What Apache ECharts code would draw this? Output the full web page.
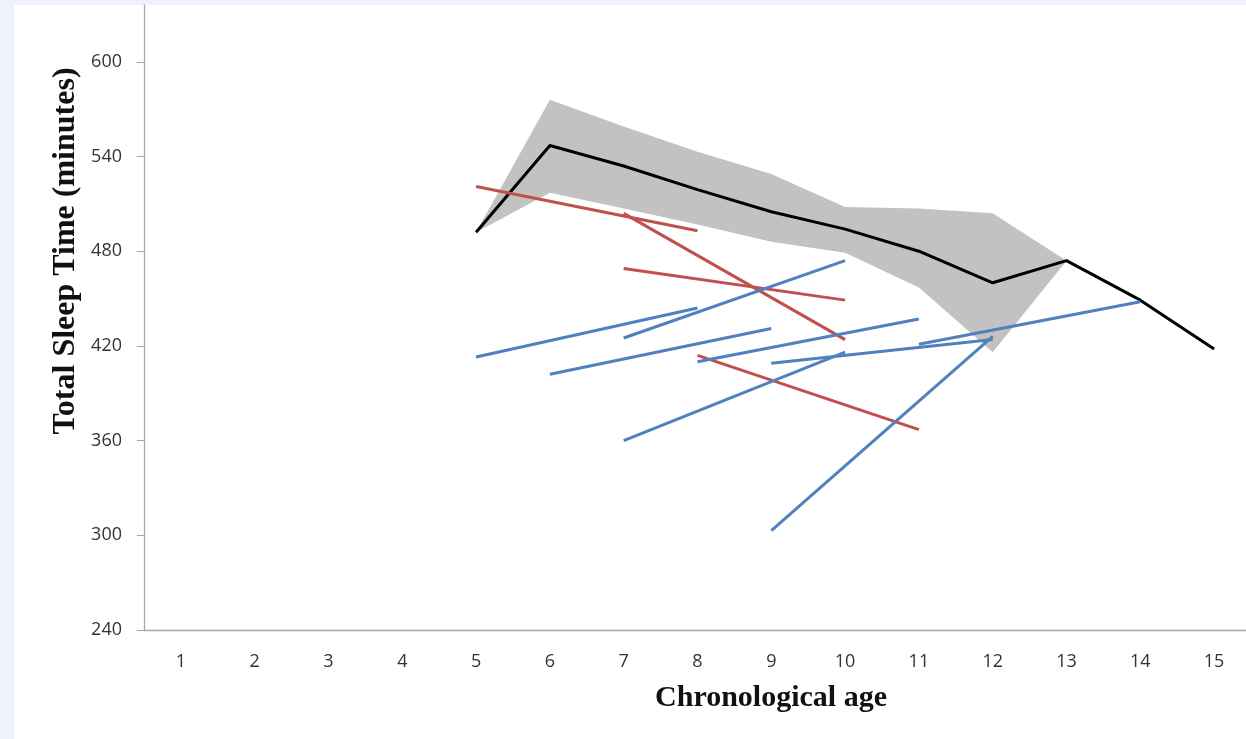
<!DOCTYPE html>
<html>
<head>
<meta charset="utf-8">
<script src="https://cdn.jsdelivr.net/npm/echarts@6/dist/echarts.min.js"></script>
<style>
  html, body { margin: 0; padding: 0; background: #eef2fb; overflow: hidden; width: 1246px; height: 739px; }
  #frame { position: absolute; left: 14px; top: 5px; width: 1232px; height: 734px; background: #ffffff; }
  #chart { position: absolute; left: 0; top: 0; width: 1251px; height: 739px; }
</style>
</head>
<body>
<div id="frame"></div>
<div id="chart"></div>
<script>
// ---- data ----
const ages = ['1','2','3','4','5','6','7','8','9','10','11','12','13','14','15'];
const yTicks = [240, 300, 360, 420, 480, 540, 600];
// mean total sleep time by age (ages 5..15)
const meanTST  = ['-','-','-','-', 492, 547, 534, 519, 505, 494, 480, 460, 474, 449, 418];
// confidence band (ages 5..13)
const bandLower = ['-','-','-','-', 492, 517, 507, 497, 486, 479, 457, 416, 474, '-', '-'];
const bandUpper = ['-','-','-','-', 492, 576, 559, 543, 529, 508, 507, 504, 474, '-', '-'];
// individual trajectories: [startAge, startValue, endAge, endValue]
const redSegments = [
  [5, 521, 8, 493],
  [7, 504, 10, 424],
  [7, 469, 10, 449],
  [8, 414, 11, 367]
];
const blueSegments = [
  [5, 413, 8, 444],
  [7, 425, 10, 474],
  [6, 402, 9, 431],
  [8, 410, 11, 437],
  [7, 360, 10, 416],
  [9, 409, 12, 424],
  [11, 421, 14, 448],
  [9, 303, 12, 426]
];

// ---- build ----
const bandDiff = bandUpper.map((u, i) => (u === '-' ? '-' : u - bandLower[i]));

function segSeries(segs, color) {
  return segs.map(s => ({
    type: 'line',
    data: [[String(s[0]), s[1]], [String(s[2]), s[3]]],
    symbol: 'none',
    lineStyle: { color: color, width: 3 },
    silent: true,
    z: 3
  }));
}

const chart = echarts.init(document.getElementById('chart'), null, { renderer: 'canvas' });
const axisColor = '#a6a6a6';
chart.setOption({
  animation: false,
  backgroundColor: 'transparent',
  grid: { left: 144, right: 0, top: 5, bottom: 109, containLabel: false },
  xAxis: {
    type: 'category',
    data: ages,
    boundaryGap: true,
    axisLine: { lineStyle: { color: axisColor, width: 1.3 } },
    axisTick: { show: false },
    axisLabel: { color: '#333333', fontSize: 18, fontFamily: 'Open Sans', margin: 23 },
    splitLine: { show: false }
  },
  yAxis: {
    type: 'value',
    min: 240,
    max: 636,
    interval: 60,
    axisLine: { show: true, lineStyle: { color: axisColor, width: 1.3 } },
    axisTick: { show: true, inside: false, length: 7, customValues: yTicks, lineStyle: { color: axisColor } },
    axisLabel: { color: '#333333', fontSize: 18, fontFamily: 'Open Sans', margin: 22, customValues: yTicks },
    splitLine: { show: false }
  },
  graphic: [
    {
      type: 'text', x: 771, y: 698,
      style: { text: 'Chronological age', font: 'bold 30px "Liberation Serif"', fill: '#111', textAlign: 'center', textVerticalAlign: 'middle' }
    },
    {
      type: 'text', x: 66, y: 251, rotation: Math.PI / 2,
      style: { text: 'Total Sleep Time (minutes)', font: 'bold 32px "Liberation Serif"', fill: '#111', textAlign: 'center', textVerticalAlign: 'middle' }
    }
  ],
  series: [
    {
      type: 'line', name: 'lower', data: bandLower, stack: 'band', symbol: 'none',
      lineStyle: { opacity: 0 }, silent: true, z: 1
    },
    {
      type: 'line', name: 'band', data: bandDiff, stack: 'band', symbol: 'none',
      lineStyle: { opacity: 0 }, areaStyle: { color: '#c2c2c2', opacity: 1 }, silent: true, z: 1
    },
    {
      type: 'line', name: 'mean', data: meanTST, symbol: 'none',
      lineStyle: { color: '#000000', width: 3 }, silent: true, z: 2
    },
    ...segSeries(redSegments, '#c0504d'),
    ...segSeries(blueSegments, '#4f81bd')
  ]
});
</script>
</body>
</html>
